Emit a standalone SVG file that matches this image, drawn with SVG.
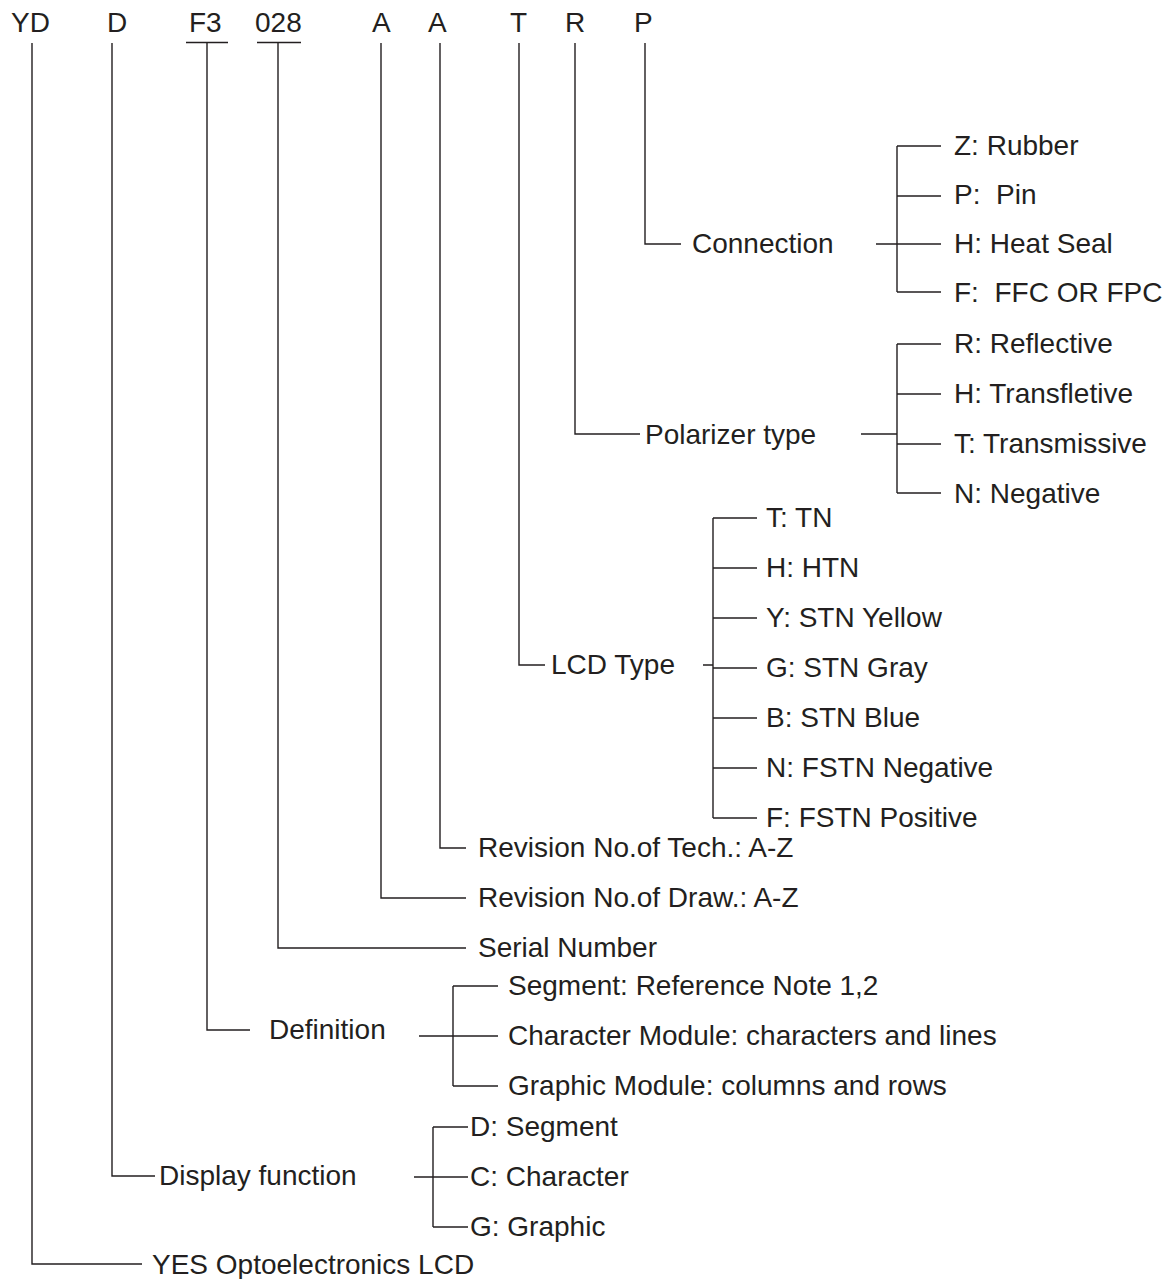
<svg xmlns="http://www.w3.org/2000/svg" width="1171" height="1279" viewBox="0 0 1171 1279">
<style>
text{font-family:"Liberation Sans",Arial,sans-serif;font-size:28px;fill:#231f20}
.c line,.c path{stroke:#231f20;stroke-width:1.4;fill:none}
</style>
<rect width="1171" height="1279" fill="#fff"/>
<g id="code">
<text x="11" y="32">YD</text>
<text x="107" y="32">D</text>
<text x="189" y="32">F3</text>
<text x="255" y="32">028</text>
<text x="372" y="32">A</text>
<text x="428" y="32">A</text>
<text x="510" y="32">T</text>
<text x="565" y="32">R</text>
<text x="634" y="32">P</text>
</g>
<g class="c" id="connectors">
<line x1="186" y1="42.5" x2="228" y2="42.5"/>
<line x1="257" y1="42.5" x2="301" y2="42.5"/>
<path d="M645 43V244H681"/>
<path d="M876 244H897M897 146V292M897 146H941M897 196H941M897 244H941M897 292H941"/>
<path d="M575 43V434H640"/>
<path d="M861 434H897M897 344V493M897 344H941M897 394H941M897 444H941M897 493H941"/>
<path d="M519 43V665H545"/>
<path d="M703 665H713M713 518V818M713 518H757M713 568H757M713 618H757M713 668H757M713 718H757M713 768H757M713 818H757"/>
<path d="M440 43V848H466"/>
<path d="M381 43V898H466"/>
<path d="M278 42.5V948H466"/>
<path d="M207 42.5V1030H250"/>
<path d="M419 1036H453M453 986V1086M453 986H498M453 1036H498M453 1086H498"/>
<path d="M112 43V1176H155"/>
<path d="M414 1177H433M433 1127V1227M433 1127H468M433 1177H468M433 1227H468"/>
<path d="M32 43V1264H142"/>
</g>
<g id="connection">
<text x="692" y="253">Connection</text>
<text x="954" y="155">Z: Rubber</text>
<text x="954" y="204" xml:space="preserve">P:  Pin</text>
<text x="954" y="253">H: Heat Seal</text>
<text x="954" y="302" xml:space="preserve">F:  FFC OR FPC</text>
</g>
<g id="polarizer">
<text x="645" y="444">Polarizer type</text>
<text x="954" y="353">R: Reflective</text>
<text x="954" y="403">H: Transfletive</text>
<text x="954" y="453">T: Transmissive</text>
<text x="954" y="503">N: Negative</text>
</g>
<g id="lcdtype">
<text x="551" y="674">LCD Type</text>
<text x="766" y="527">T: TN</text>
<text x="766" y="577">H: HTN</text>
<text x="766" y="627">Y: STN Yellow</text>
<text x="766" y="677">G: STN Gray</text>
<text x="766" y="727">B: STN Blue</text>
<text x="766" y="777">N: FSTN Negative</text>
<text x="766" y="827">F: FSTN Positive</text>
</g>
<g id="revtech"><text x="478" y="857">Revision No.of Tech.: A-Z</text></g>
<g id="revdraw"><text x="478" y="907">Revision No.of Draw.: A-Z</text></g>
<g id="serial"><text x="478" y="957">Serial Number</text></g>
<g id="definition">
<text x="269" y="1039">Definition</text>
<text x="508" y="995">Segment: Reference Note 1,2</text>
<text x="508" y="1045">Character Module: characters and lines</text>
<text x="508" y="1095">Graphic Module: columns and rows</text>
</g>
<g id="display">
<text x="159" y="1185">Display function</text>
<text x="470" y="1136">D: Segment</text>
<text x="470" y="1186">C: Character</text>
<text x="470" y="1236">G: Graphic</text>
</g>
<g id="yes"><text x="152" y="1274">YES Optoelectronics LCD</text></g>
</svg>
